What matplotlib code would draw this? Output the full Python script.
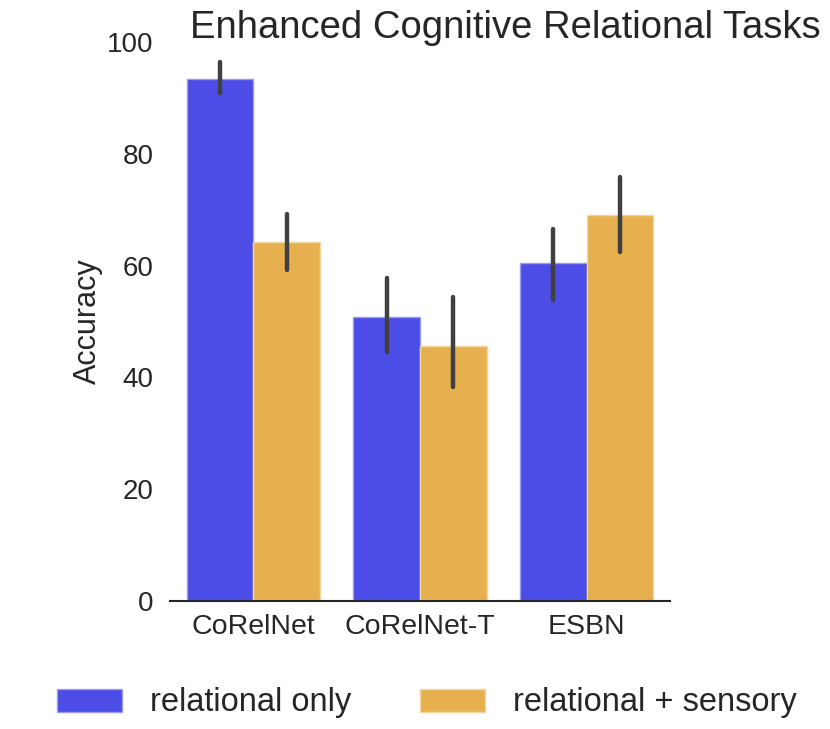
import matplotlib
matplotlib.use("Agg")
import matplotlib.pyplot as plt
import numpy as np
from matplotlib.patches import Patch

categories = ["CoRelNet", "CoRelNet-T", "ESBN"]
series_names = ["relational only", "relational + sensory"]
rel_only = [93.4, 50.8, 60.5]
rel_only_lo = [90.8, 44.5, 53.9]
rel_only_hi = [96.4, 57.8, 66.5]
rel_sens = [64.2, 45.7, 69.0]
rel_sens_lo = [59.3, 38.2, 62.4]
rel_sens_hi = [69.2, 54.4, 75.9]
yticks = [0, 20, 40, 60, 80, 100]

colors = ["#4c4ce6", "#e6b04e"]
edges = ["#9a9af2", "#f2d6a2"]

plt.rcParams['font.family'] = ['Liberation Sans', 'DejaVu Sans']
fig = plt.figure(figsize=(8.3, 7.29), dpi=100)
ax = fig.add_axes([170/830, 1-601/729, 500/830, 559/729])

x = np.arange(len(categories))
w = 0.4
data = [(rel_only, rel_only_lo, rel_only_hi), (rel_sens, rel_sens_lo, rel_sens_hi)]
for i, (vals, lo, hi) in enumerate(data):
    xs = x + (i - 0.5) * w
    ax.bar(xs, vals, width=w, color=colors[i], edgecolor=edges[i], linewidth=1.0, zorder=2)
    ax.vlines(xs, lo, hi, colors="#404040", linewidth=3.2, zorder=3, capstyle="round")

ax.set_xlim(-0.5, 2.5)
ax.set_ylim(0, 100)
ax.set_xticks(x)
ax.set_xticklabels(categories, fontsize=20.5, color="#262626")
ax.set_yticks(yticks)
ax.set_yticklabels([str(t) for t in yticks], fontsize=20, color="#262626")
ax.tick_params(axis='both', length=0)
ax.tick_params(axis='y', pad=12)
ax.tick_params(axis='x', pad=9)
for s in ["left", "top", "right"]:
    ax.spines[s].set_visible(False)
ax.spines["bottom"].set_linewidth(1.5)
ax.spines["bottom"].set_color("#262626")
ax.set_ylabel("Accuracy", fontsize=22, color="#262626", labelpad=3)

fig.text(505/830, 1-28/729, "Enhanced Cognitive Relational Tasks", fontsize=27.5,
         color="#262626", ha="center", va="center")

handles = [Patch(facecolor=colors[i], edgecolor=edges[i], label=series_names[i]) for i in range(2)]
fig.legend(handles=handles, loc="center", bbox_to_anchor=(427/830, 1-703/729), ncol=2,
           frameon=False, fontsize=23.5, handlelength=2.0, handleheight=0.7,
           handletextpad=0.85, columnspacing=2.1, labelcolor="#262626")

fig.savefig("out.png", dpi=100)
